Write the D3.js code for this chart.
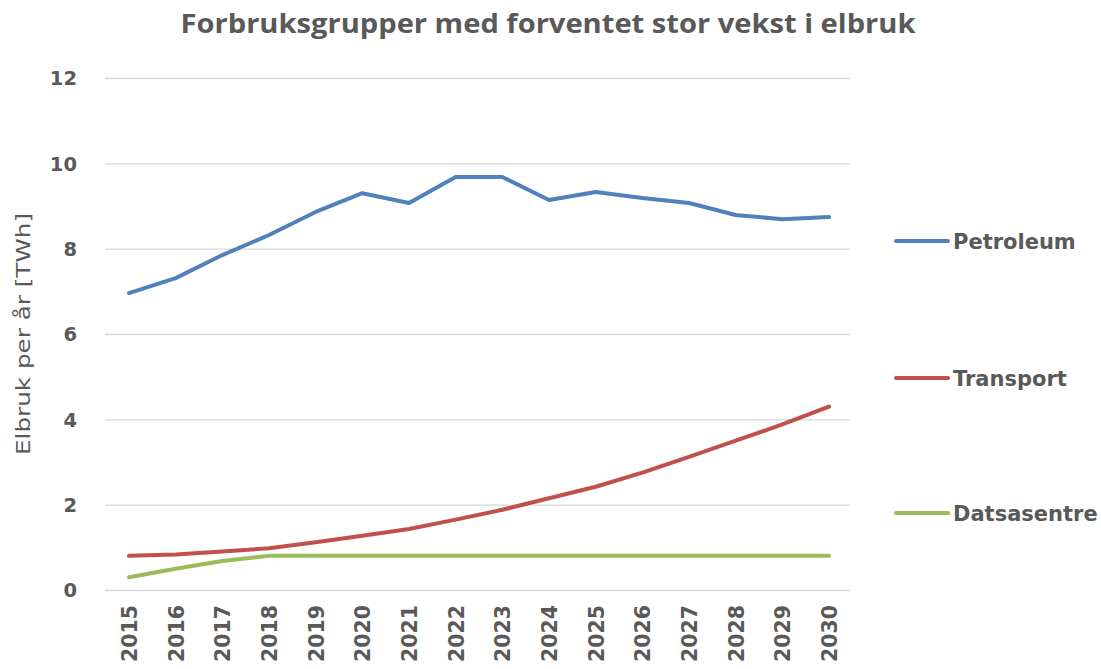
<!DOCTYPE html>
<html>
<head>
<meta charset="utf-8">
<script src="https://cdn.jsdelivr.net/npm/d3@7"></script>
<style>
  body { margin: 0; background: #fff; }
  text { font-family: 'DejaVu Sans', sans-serif; fill: #595959; }
  .grid line { stroke: #d9d9d9; stroke-width: 1.3; }
  .grid path { display: none; }
  .axis path, .axis line { display: none; }
  .axis text { font-family: 'DejaVu Sans', sans-serif; font-weight: bold; font-size: 19.5px; fill: #595959; }
  .xaxis text { font-size: 20.5px; }
  .line { fill: none; stroke-width: 4; stroke-linejoin: round; stroke-linecap: round; }
</style>
</head>
<body>
<script>
// ==================== Data ============================
const years = ['2015', '2016', '2017', '2018', '2019', '2020', '2021', '2022',
               '2023', '2024', '2025', '2026', '2027', '2028', '2029', '2030'];

const petroleum   = [6.96, 7.31, 7.85, 8.32, 8.86, 9.30, 9.07, 9.68, 9.68, 9.14, 9.33, 9.19, 9.07, 8.79, 8.69, 8.74];
const transport   = [0.80, 0.83, 0.90, 0.98, 1.12, 1.27, 1.43, 1.65, 1.88, 2.15, 2.42, 2.75, 3.12, 3.50, 3.88, 4.30];
const datasentre  = [0.30, 0.50, 0.68, 0.80, 0.80, 0.80, 0.80, 0.80, 0.80, 0.80, 0.80, 0.80, 0.80, 0.80, 0.80, 0.80];

const yTicks = [0, 2, 4, 6, 8, 10, 12];

const series = [
  {name: 'Petroleum',   values: petroleum,  color: '#4f81bd', legendY: 241},
  {name: 'Transport',   values: transport,  color: '#c0504d', legendY: 378},
  {name: 'Datsasentre', values: datasentre, color: '#9bbb59', legendY: 513}
];

// ==================== Set up Variables ============================
const W = 1101, H = 669;
const margin = {top: 78, right: 251, bottom: 79, left: 105},
      width = W - margin.left - margin.right,
      height = H - margin.top - margin.bottom;

const x = d3.scalePoint().domain(years).range([24, width - 21]);
const y = d3.scaleLinear().domain([0, 12]).range([height, 0]);

const svg = d3.select('body')
  .append('svg')
    .attr('width', W)
    .attr('height', H);

const g = svg.append('g')
    .attr('transform', `translate(${margin.left}, ${margin.top})`);

// Title
svg.append('text')
    .attr('x', 548)
    .attr('y', 33)
    .attr('text-anchor', 'middle')
    .attr('textLength', 735)
    .attr('lengthAdjust', 'spacingAndGlyphs')
    .style('font-family', "'Open Sans', sans-serif")
    .style('font-size', '27px')
    .style('font-weight', 'bold')
    .text('Forbruksgrupper med forventet stor vekst i elbruk');

// Gridlines
g.append('g')
    .attr('class', 'grid')
    .call(d3.axisLeft(y).tickValues(yTicks).tickSize(-width).tickFormat(''));

// Y axis labels
g.append('g')
    .attr('class', 'axis')
    .attr('transform', 'translate(-18, 0)')
    .call(d3.axisLeft(y).tickValues(yTicks).tickSize(0).tickPadding(10))
    .selectAll('text')
      .attr('dy', '0.35em');

// X axis labels
g.append('g')
    .attr('class', 'axis xaxis')
    .attr('transform', `translate(0, ${height})`)
    .call(d3.axisBottom(x).tickSize(0))
    .selectAll('text')
      .style('text-anchor', 'end')
      .attr('dx', '-15px')
      .attr('dy', '0.36em')
      .attr('x', 0)
      .attr('y', 0)
      .attr('transform', 'rotate(-90)');

// Y axis title
svg.append('text')
    .attr('transform', `translate(30, ${334}) rotate(-90)`)
    .attr('text-anchor', 'middle')
    .attr('textLength', 242)
    .attr('lengthAdjust', 'spacingAndGlyphs')
    .style('font-size', '20px')
    .text('Elbruk per år [TWh]');

// Lines
const line = d3.line()
    .x((d, i) => x(years[i]))
    .y((d) => y(d));

g.selectAll('.line')
  .data(series)
  .enter()
  .append('path')
    .attr('class', 'line')
    .attr('stroke', (d) => d.color)
    .attr('d', (d) => line(d.values));

// Legend
const legend = svg.selectAll('.legend')
  .data(series)
  .enter()
  .append('g')
    .attr('class', 'legend')
    .attr('transform', (d) => `translate(896, ${d.legendY})`);

legend.append('line')
    .attr('x1', 0)
    .attr('x2', 52)
    .attr('stroke', (d) => d.color)
    .attr('stroke-width', 4)
    .attr('stroke-linecap', 'round');

legend.append('text')
    .attr('x', 57)
    .attr('dy', '0.36em')
    .style('font-size', '21px')
    .style('font-weight', 'bold')
    .text((d) => d.name);
</script>
</body>
</html>
